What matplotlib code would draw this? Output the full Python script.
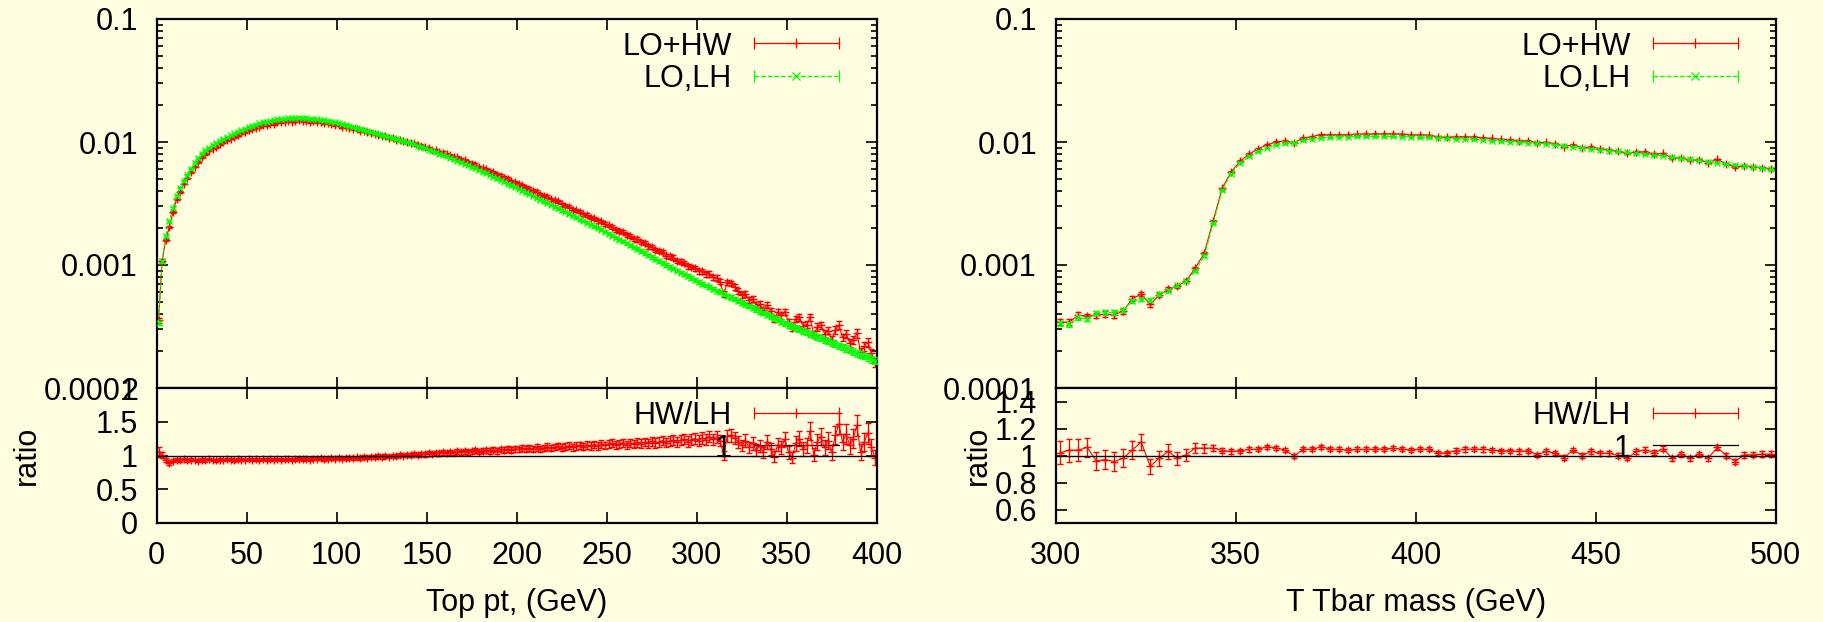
import numpy as np
import matplotlib
matplotlib.use("Agg")
import matplotlib.pyplot as plt
from matplotlib.ticker import FixedLocator, FixedFormatter, LogLocator, NullFormatter, NullLocator

plt.rcParams['font.family'] = ['Liberation Sans', 'DejaVu Sans']

# ---------------- data ----------------
# Top pt histogram: 2 GeV bins from 0 to 400
pt_bin_lo, pt_bin_hi, pt_bin_w = 0.0, 400.0, 2.0
# LO,LH (green) distribution, one value per bin
lh_pt = [
    0.000339, 0.00107, 0.00172, 0.00228, 0.00292, 0.00363, 0.00424, 0.00485, 0.00543, 0.00608,
    0.00676, 0.00741, 0.00802, 0.00855, 0.00902, 0.00944, 0.00984, 0.01023, 0.01062, 0.01099,
    0.01135, 0.01175, 0.01213, 0.01250, 0.01285, 0.01321, 0.01355, 0.01387, 0.01416, 0.01442,
    0.01466, 0.01486, 0.01507, 0.01524, 0.01542, 0.01552, 0.01563, 0.01567, 0.01570, 0.01567,
    0.01563, 0.01556, 0.01549, 0.01538, 0.01528, 0.01514, 0.01500, 0.01483, 0.01462, 0.01442,
    0.01419, 0.01396, 0.01374, 0.01352, 0.01327, 0.01303, 0.01279, 0.01256, 0.01233, 0.01211,
    0.01186, 0.01161, 0.01138, 0.01117, 0.01096, 0.01076, 0.01057, 0.01038, 0.01016, 0.00995,
    0.00975, 0.00955, 0.00933, 0.00912, 0.00891, 0.00869, 0.00847, 0.00826, 0.00805, 0.00785,
    0.00766, 0.00746, 0.00726, 0.00706, 0.00687, 0.00667, 0.00647, 0.00628, 0.00610, 0.00592,
    0.00574, 0.00556, 0.00538, 0.00521, 0.00505, 0.00489, 0.00473, 0.00458, 0.00444, 0.00430,
    0.00416, 0.00402, 0.00389, 0.00376, 0.00364, 0.00352, 0.00340, 0.00329, 0.00318, 0.00308,
    0.00298, 0.00288, 0.00279, 0.00269, 0.00261, 0.00252, 0.00244, 0.00236, 0.00228, 0.00220,
    0.00213, 0.00206, 0.00200, 0.00193, 0.00187, 0.00180, 0.00173, 0.00167, 0.00161, 0.00156,
    0.00150, 0.00145, 0.00139, 0.00135, 0.00130, 0.00125, 0.00120, 0.00116, 0.00112, 0.00108,
    0.00104, 0.00100, 0.000968, 0.000935, 0.000902, 0.000869, 0.000838, 0.000809, 0.000780, 0.000752,
    0.000728, 0.000705, 0.000682, 0.000661, 0.000640, 0.000619, 0.000600, 0.000581, 0.000562, 0.000545,
    0.000527, 0.000510, 0.000494, 0.000479, 0.000463, 0.000449, 0.000435, 0.000421, 0.000407, 0.000394,
    0.000382, 0.000370, 0.000358, 0.000347, 0.000336, 0.000327, 0.000318, 0.000309, 0.000301, 0.000292,
    0.000284, 0.000276, 0.000269, 0.000261, 0.000254, 0.000247, 0.000240, 0.000234, 0.000228, 0.000221,
    0.000215, 0.000209, 0.000203, 0.000198, 0.000192, 0.000187, 0.000182, 0.000177, 0.000172, 0.000167,
]
# HW/LH ratio per bin
ratio_pt = [
    1.05, 1.01, 0.93, 0.89, 0.92, 0.94, 0.93, 0.945, 0.93, 0.94,
    0.935, 0.925, 0.94, 0.93, 0.945, 0.935, 0.93, 0.94, 0.935, 0.95,
    0.94, 0.93, 0.945, 0.94, 0.935, 0.95, 0.94, 0.945, 0.935, 0.95,
    0.94, 0.945, 0.935, 0.95, 0.94, 0.945, 0.95, 0.935, 0.945, 0.955,
    0.945, 0.95, 0.94, 0.955, 0.95, 0.96, 0.945, 0.955, 0.96, 0.95,
    0.965, 0.955, 0.96, 0.97, 0.96, 0.975, 0.965, 0.98, 0.97, 0.985,
    0.975, 0.99, 0.98, 0.995, 0.985, 1.0, 0.99, 1.005, 1.0, 1.01,
    1.005, 1.02, 1.01, 1.025, 1.015, 1.03, 1.02, 1.035, 1.03, 1.045,
    1.035, 1.05, 1.04, 1.06, 1.045, 1.065, 1.05, 1.06, 1.075, 1.055,
    1.07, 1.08, 1.065, 1.085, 1.07, 1.09, 1.08, 1.095, 1.085, 1.1,
    1.09, 1.105, 1.095, 1.11, 1.1, 1.12, 1.1, 1.115, 1.13, 1.11,
    1.125, 1.14, 1.115, 1.13, 1.145, 1.12, 1.14, 1.15, 1.13, 1.155,
    1.14, 1.16, 1.145, 1.17, 1.15, 1.165, 1.18, 1.155, 1.175, 1.19,
    1.16, 1.185, 1.17, 1.195, 1.175, 1.2, 1.18, 1.21, 1.185, 1.2,
    1.22, 1.19, 1.215, 1.23, 1.2, 1.225, 1.24, 1.205, 1.235, 1.25,
    1.22, 1.26, 1.235, 1.28, 1.24, 1.27, 1.22, 1.0, 1.29, 1.3,
    1.26, 1.2, 1.15, 1.22, 1.12, 1.18, 1.08, 1.14, 1.05, 1.2,
    1.1, 0.98, 1.16, 1.12, 1.24, 1.05, 0.97, 1.18, 1.25, 1.1,
    1.15, 1.36, 1.01, 1.2, 1.28, 1.12, 1.22, 1.05, 1.3, 1.47,
    1.2, 1.32, 1.15, 1.25, 1.45, 1.05, 1.2, 1.33, 1.12, 0.97,
]
# relative statistical error per bin
relerr_pt = [
    0.05, 0.03, 0.025, 0.02, 0.018, 0.016,
    0.015, 0.014, 0.015, 0.014, 0.015, 0.015, 0.014, 0.015, 0.014, 0.015,
    0.015, 0.014, 0.015, 0.015, 0.014, 0.015, 0.015, 0.014, 0.015, 0.015,
    0.015, 0.016, 0.015, 0.015, 0.016, 0.015, 0.016, 0.015, 0.016, 0.016,
    0.015, 0.016, 0.016, 0.016, 0.017, 0.016, 0.016, 0.017, 0.016, 0.017,
    0.017, 0.016, 0.017, 0.017,
    0.017, 0.017, 0.018, 0.017, 0.018, 0.018, 0.018, 0.019, 0.018, 0.019,
    0.019, 0.019, 0.02, 0.019, 0.02, 0.02, 0.02, 0.021, 0.02, 0.021,
    0.021, 0.021, 0.022, 0.021, 0.022, 0.022, 0.023, 0.022, 0.023, 0.023,
    0.023, 0.024, 0.023, 0.024, 0.024, 0.025, 0.024, 0.025, 0.025, 0.025,
    0.026, 0.025, 0.026, 0.026, 0.027, 0.026, 0.027, 0.027, 0.028, 0.027,
    0.028, 0.028, 0.029, 0.028, 0.029, 0.03, 0.029, 0.03, 0.03, 0.031,
    0.03, 0.031, 0.032, 0.031, 0.032, 0.032, 0.033, 0.032, 0.033, 0.034,
    0.033, 0.034, 0.035, 0.034, 0.035, 0.035, 0.036, 0.035, 0.037, 0.036,
    0.037, 0.038, 0.037, 0.038, 0.039, 0.038, 0.04, 0.039, 0.04, 0.041,
    0.04, 0.042, 0.041, 0.043, 0.042, 0.044, 0.043, 0.045, 0.044, 0.046,
    0.045, 0.047, 0.046, 0.048, 0.047, 0.05, 0.048, 0.051, 0.049, 0.052,
    0.05, 0.053, 0.052, 0.055, 0.053, 0.056, 0.055, 0.058, 0.056, 0.059,
    0.057, 0.06, 0.059, 0.062, 0.06, 0.064, 0.062, 0.065, 0.063, 0.067,
    0.065, 0.069, 0.066, 0.07, 0.068, 0.072, 0.07, 0.074, 0.071, 0.075,
    0.073, 0.077, 0.075, 0.079, 0.076, 0.08, 0.078, 0.082, 0.08, 0.085,
]

# T Tbar mass histogram: 2.5 GeV bins from 300 to 500
mtt_bin_lo, mtt_bin_hi, mtt_bin_w = 300.0, 500.0, 2.5
lh_mtt = [
    0.000337, 0.000330, 0.000375, 0.000363, 0.000406, 0.000411, 0.000411, 0.000431, 0.000510, 0.000527,
    0.000520, 0.000580, 0.000617, 0.000684, 0.000741, 0.000894, 0.00118, 0.00218, 0.00406, 0.00553,
    0.00676, 0.00765, 0.00840, 0.00894, 0.00950, 0.00980, 0.00990, 0.01030, 0.01060, 0.01080,
    0.01095, 0.01100, 0.01105, 0.01110, 0.01112, 0.01112, 0.01110, 0.01110, 0.01108, 0.01102,
    0.01095, 0.01088, 0.01080, 0.01072, 0.01065, 0.01058, 0.01048, 0.01038, 0.01028, 0.01018,
    0.01008, 0.00998, 0.00988, 0.00978, 0.00968, 0.00950, 0.00933, 0.00916, 0.00900, 0.00883,
    0.00867, 0.00852, 0.00838, 0.00824, 0.00810, 0.00797, 0.00783, 0.00770, 0.00754, 0.00739,
    0.00724, 0.00709, 0.00694, 0.00680, 0.00666, 0.00653, 0.00639, 0.00626, 0.00613, 0.00600,
]
ratio_mtt = [
    1.02, 1.04, 1.04, 1.06, 0.96, 0.97, 0.955, 0.98, 1.04, 1.10,
    0.92, 0.98, 1.03, 0.98, 1.005, 1.055, 1.055, 1.055, 1.037, 1.03,
    1.035, 1.045, 1.047, 1.065, 1.055, 1.04, 0.997, 1.047, 1.045, 1.065,
    1.047, 1.045, 1.04, 1.045, 1.045, 1.047, 1.048, 1.053, 1.047, 1.04,
    1.048, 1.045, 1.017, 1.02, 1.037, 1.045, 1.047, 1.045, 1.04, 1.035,
    1.035, 1.03, 1.035, 1.005, 1.03, 1.017, 0.985, 1.04, 1.0, 1.03,
    1.017, 1.017, 1.0, 0.98, 1.03, 1.042, 1.02, 1.05, 0.98, 1.01,
    0.98, 1.01, 0.98, 1.06, 1.0, 0.955, 1.005, 1.005, 1.01, 1.01,
]
relerr_mtt = [
    0.06, 0.058, 0.055, 0.045, 0.05, 0.052, 0.05, 0.048, 0.046, 0.04,
    0.044, 0.04, 0.038, 0.034, 0.03, 0.026, 0.022, 0.016, 0.013, 0.012,
    0.011, 0.011, 0.01, 0.01, 0.01, 0.01, 0.01, 0.01, 0.01, 0.01,
    0.01, 0.01, 0.01, 0.01, 0.01, 0.01, 0.01, 0.01, 0.01, 0.01,
    0.01, 0.01, 0.011, 0.01, 0.011, 0.011, 0.011, 0.011, 0.011, 0.011,
    0.011, 0.011, 0.011, 0.011, 0.011, 0.011, 0.012, 0.011, 0.012, 0.012,
    0.012, 0.012, 0.012, 0.012, 0.012, 0.012, 0.013, 0.012, 0.013, 0.013,
    0.013, 0.013, 0.013, 0.013, 0.013, 0.013, 0.014, 0.013, 0.014, 0.014,
]

pt_ticks = [0, 50, 100, 150, 200, 250, 300, 350, 400]
mtt_ticks = [300, 350, 400, 450, 500]
main_yticks = [0.0001, 0.001, 0.01, 0.1]
main_ylabels = ['0.0001', '0.001', '0.01', '0.1']
ratio_pt_yticks = [0, 0.5, 1, 1.5, 2]
ratio_pt_ylabels = ['0', '0.5', '1', '1.5', '2']
ratio_mtt_yticks = [0.6, 0.8, 1.0, 1.2, 1.4]
ratio_mtt_ylabels = ['0.6', '0.8', '1', '1.2', '1.4']

# ---------------- style ----------------
BG = '#fffde0'
RED = '#ff0000'
GREEN = '#00ff00'
FS = 22

fig = plt.figure(figsize=(18.23, 6.22), dpi=100, facecolor=BG)

W = 720 / 1823
MAIN_B, MAIN_H = 1 - 388 / 622, 369 / 622
RAT_B, RAT_H = 1 - 523 / 622, 135 / 622


def style(ax):
    ax.set_facecolor(BG)
    for s in ax.spines.values():
        s.set_linewidth(1.6)
        s.set_color('black')
    ax.tick_params(which='both', direction='in', top=True, right=True,
                   width=1.2, labelsize=FS, colors='black')
    ax.tick_params(which='major', length=8)
    ax.tick_params(which='minor', length=4)
    ax.tick_params(axis='y', pad=13.5)
    ax.tick_params(axis='x', pad=13)
    ax.xaxis.set_minor_locator(NullLocator())


def key(ax, y_txt, y_line, label, color, ls, marker, ms, err=True):
    x0, x1 = 0.8292, 0.9475
    ax.text(0.7986, y_txt, label, transform=ax.transAxes, ha='right', va='baseline', fontsize=FS)
    ax.plot([x0, x1], [y_line, y_line], transform=ax.transAxes, color=color, ls=ls, lw=0.9)
    if err:
        ax.plot([x0, x1], [y_line, y_line], transform=ax.transAxes, ls='none', marker='|',
                ms=8, mew=0.9, color=color)
        ax.plot([(x0 + x1) / 2], [y_line], transform=ax.transAxes, ls='none', marker=marker,
                ms=ms, mew=0.9, color=color)


def panel(x0, centers, lh, ratio, relerr, xlo, xhi, xticks, rticks, rlabels, rlim, xlabel, ratio_x):
    lh = np.asarray(lh)
    ratio = np.asarray(ratio)
    relerr = np.asarray(relerr)
    hw = lh * ratio
    ratio_err = ratio * relerr * np.sqrt(2.0)

    axm = fig.add_axes([x0, MAIN_B, W, MAIN_H])
    axr = fig.add_axes([x0, RAT_B, W, RAT_H])
    style(axm)
    style(axr)

    axm.errorbar(centers, hw, yerr=hw * relerr, color=RED, ecolor=RED, ls='-', lw=0.8,
                 marker='+', ms=6, mew=1.0, elinewidth=0.9, capsize=2.5, capthick=0.9, zorder=2)
    axm.errorbar(centers, lh, yerr=lh * relerr * 0.8, color=GREEN, ecolor=GREEN, ls='--', lw=0.8,
                 marker='x', ms=5, mew=0.9, elinewidth=0.8, capsize=2.5, capthick=0.8, zorder=3)
    axm.set_yscale('log')
    axm.set_ylim(1e-4, 0.1)
    axm.set_xlim(xlo, xhi)
    axm.yaxis.set_major_locator(FixedLocator(main_yticks))
    axm.yaxis.set_major_formatter(FixedFormatter(main_ylabels))
    axm.yaxis.set_minor_locator(LogLocator(base=10, subs=np.arange(2, 10), numticks=20))
    axm.yaxis.set_minor_formatter(NullFormatter())
    axm.xaxis.set_major_locator(FixedLocator(xticks))
    axm.tick_params(axis='x', labelbottom=False)
    key(axm, 0.9024, 0.935, 'LO+HW', RED, '-', '+', 7)
    key(axm, 0.815, 0.8455, 'LO,LH', GREEN, '--', 'x', 6)

    axr.errorbar(centers, ratio, yerr=ratio_err, color=RED, ecolor=RED, ls='-', lw=0.8,
                 marker='+', ms=6, mew=1.0, elinewidth=0.9, capsize=2.5, capthick=0.9, zorder=2)
    axr.axhline(1.0, color='black', lw=1.0, zorder=4)
    axr.set_xlim(xlo, xhi)
    axr.set_ylim(*rlim)
    axr.yaxis.set_major_locator(FixedLocator(rticks))
    axr.yaxis.set_major_formatter(FixedFormatter(rlabels))
    axr.yaxis.set_minor_locator(NullLocator())
    axr.xaxis.set_major_locator(FixedLocator(xticks))
    axr.xaxis.set_major_formatter(FixedFormatter([str(t) for t in xticks]))
    key(axr, 0.7333, 0.8126, 'HW/LH', RED, '-', '+', 7)
    key(axr, 0.487, 0.575, '1', 'black', '-', None, 0, err=False)

    axr.set_xlabel(xlabel, fontsize=FS)
    axr.xaxis.label.set_va('center')
    axr.xaxis.set_label_coords(0.5, -0.593)
    axr.set_ylabel('ratio', fontsize=FS)
    axr.yaxis.label.set_va('center')
    axr.yaxis.set_label_coords(ratio_x, 0.504)


pt_centers = pt_bin_lo + pt_bin_w * (np.arange(len(lh_pt)) + 0.5)
mtt_centers = mtt_bin_lo + mtt_bin_w * (np.arange(len(lh_mtt)) + 0.5)

panel(156.7 / 1823, pt_centers, lh_pt, ratio_pt, relerr_pt, pt_bin_lo, pt_bin_hi, pt_ticks,
      ratio_pt_yticks, ratio_pt_ylabels, (0, 2), 'Top pt, (GeV)', -0.180)
panel(1055.7 / 1823, mtt_centers, lh_mtt, ratio_mtt, relerr_mtt, mtt_bin_lo, mtt_bin_hi, mtt_ticks,
      ratio_mtt_yticks, ratio_mtt_ylabels, (0.5, 1.5), 'T Tbar mass (GeV)', -0.108)

fig.savefig('out.png', dpi=100, facecolor=BG)
